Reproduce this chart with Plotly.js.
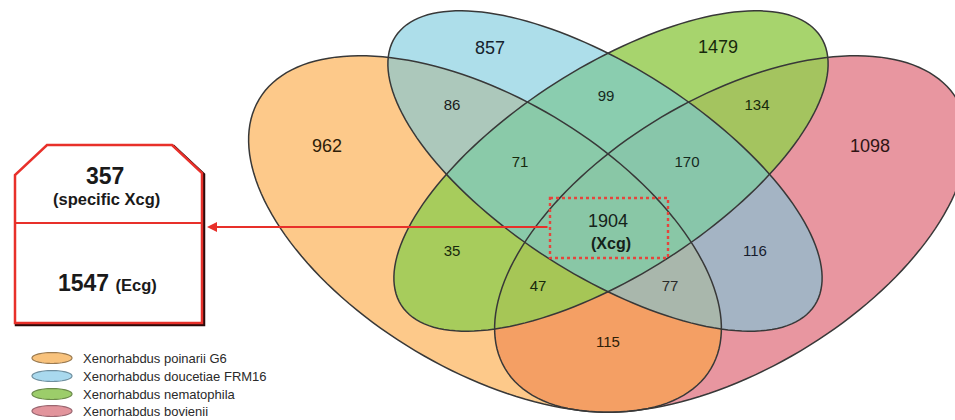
<!DOCTYPE html>
<html>
<head>
<meta charset="utf-8">
<script src="https://cdn.plot.ly/plotly-3.0.1.min.js"></script>
<style>html,body{margin:0;padding:0;background:#fff;}#chart{width:955px;height:420px;}</style>
</head>
<body>
<div id="chart"></div>
<script>
// ---------- DATA ----------
const setNames = ['Xenorhabdus poinarii G6', 'Xenorhabdus doucetiae FRM16', 'Xenorhabdus nematophila', 'Xenorhabdus bovienii'];
const regionNames = ['P only', 'D only', 'N only', 'B only', 'P∩D', 'D∩N', 'N∩B', 'P∩D∩N', 'D∩N∩B', 'P∩D∩N∩B', 'P∩N', 'D∩B', 'P∩N∩B', 'P∩D∩B', 'P∩B'];
const regionCounts = [962, 857, 1479, 1098, 86, 99, 134, 71, 170, 1904, 35, 116, 47, 77, 115];
const coreLabel = '(Xcg)';
const boxValues = [357, 1547];
const boxLabels = ['(specific Xcg)', '(Ecg)'];

// ---------- LAYOUT / STYLE (positions in pixel-like axis units) ----------
const labelX = [327, 490, 718, 870, 452, 606, 757, 520, 687, 608, 452, 755, 538, 670, 608];
const labelY = [147, 49, 48, 147, 106, 97, 106, 163, 163, 222, 252, 252, 287, 287, 343];
const labelSize = [18, 18, 18, 18, 15, 15, 15, 15, 15, 18, 15, 15, 15, 15, 15];
const labelColor = ['#2e2008', '#16222e', '#17290c', '#2e1414', '#1a1a1a', '#15291e', '#17290c', '#17290c', '#15291e', '#15221a', '#17290c', '#161c2e', '#17290c', '#2a2a2a', '#2e2008'];

// ellipse geometry: cx, cy, a, b, rotation (deg, clockwise on screen)
const ellipses = [
  {cx: 485, cy: 234, a: 263, b: 136, r: 30.8},   // poinarii (orange)
  {cx: 605, cy: 171, a: 249, b: 104, r: 32.6},   // doucetiae (blue)
  {cx: 611, cy: 171, a: 249, b: 104, r: -32.6},  // nematophila (green)
  {cx: 731, cy: 234, a: 263, b: 136, r: -30.8}   // bovienii (pink)
];
const fills = ['rgba(252,165,60,0.6)', 'rgba(118,200,220,0.6)', 'rgba(152,204,84,0.85)', 'rgba(217,80,97,0.6)'];
const drawOrder = [3, 0, 2, 1];
const legendFill = ['#f8c27c', '#a9d9ee', '#9ccd6a', '#e2949c'];
const legendLine = ['#9a7a50', '#6f8f9f', '#6b8a4a', '#9a6670'];
const legendRowY = [358, 376, 394, 411];

function ellipsePath(cx, cy, a, b, deg, n) {
  n = n || 160;
  const t = deg * Math.PI / 180, c = Math.cos(t), s = Math.sin(t);
  let p = '';
  for (let i = 0; i < n; i++) {
    const u = 2 * Math.PI * i / n;
    const x = a * Math.cos(u), y = b * Math.sin(u);
    const X = cx + x * c - y * s, Y = cy + x * s + y * c;
    p += (i ? 'L' : 'M') + X.toFixed(2) + ',' + Y.toFixed(2);
  }
  return p + 'Z';
}

const shapes = [];
drawOrder.forEach(i => {
  const e = ellipses[i];
  shapes.push({type: 'path', layer: 'below', path: ellipsePath(e.cx, e.cy, e.a, e.b, e.r),
    fillcolor: fills[i], line: {width: 0}});
});
ellipses.forEach(e => {
  shapes.push({type: 'path', layer: 'below', path: ellipsePath(e.cx, e.cy, e.a, e.b, e.r),
    fillcolor: 'rgba(0,0,0,0)', line: {color: '#383838', width: 1.5}});
});
// dotted core box
shapes.push({type: 'rect', layer: 'above', x0: 550, y0: 198, x1: 668, y1: 258,
  line: {color: '#e5453c', width: 2.4, dash: 'dot'}, fillcolor: 'rgba(0,0,0,0)'});
// left callout box
const boxPath = 'M47,145L172,145L202,173L202,323L15,323L15,175Z';
shapes.push({type: 'path', layer: 'below', path: 'M48.5,146.5L173.5,146.5L203.5,174.5L203.5,324.5L16.5,324.5L16.5,176.5Z',
  fillcolor: 'rgba(0,0,0,0)', line: {color: '#2a0a0a', width: 3.5}});
shapes.push({type: 'path', layer: 'below', path: boxPath, fillcolor: '#ffffff', line: {color: '#e8302a', width: 2.5}});
shapes.push({type: 'line', layer: 'below', x0: 15, x1: 202, y0: 223, y1: 223, line: {color: '#e8302a', width: 2}});
// legend ellipses
legendRowY.forEach((y, i) => {
  shapes.push({type: 'path', layer: 'below', path: ellipsePath(52, y, 20, 5.5, 0, 60),
    fillcolor: legendFill[i], line: {color: legendLine[i], width: 1.2}});
});

const traces = [{
  type: 'scatter', mode: 'text', x: labelX, y: labelY,
  text: regionCounts.map(String), hoverinfo: 'skip',
  textfont: {family: 'Liberation Sans, Arial, sans-serif', size: labelSize, color: labelColor}
}];

const annotations = [
  {x: 611, y: 243, text: '<b>' + coreLabel + '</b>', showarrow: false, font: {family: 'Liberation Sans, Arial', size: 16, color: '#15221a'}},
  {x: 207, y: 227, ax: 549, ay: 227, axref: 'x', ayref: 'y', xref: 'x', yref: 'y', text: '', showarrow: true,
    arrowhead: 2, arrowsize: 1, arrowwidth: 2, arrowcolor: '#e8302a'},
  {x: 105, y: 176, text: '<b>' + boxValues[0] + '</b>', showarrow: false, font: {family: 'Liberation Sans, Arial', size: 23, color: '#1a1a1a'}},
  {x: 106, y: 199, text: '<b>' + boxLabels[0] + '</b>', showarrow: false, font: {family: 'Liberation Sans, Arial', size: 16.5, color: '#1a1a1a'}},
  {x: 107, y: 283, text: '<b>' + boxValues[1] + '</b> <b><span style="font-size:16.5px">' + boxLabels[1] + '</span></b>', showarrow: false,
    font: {family: 'Liberation Sans, Arial', size: 23, color: '#1a1a1a'}}
];
setNames.forEach((n, i) => {
  annotations.push({x: 81, y: legendRowY[i], text: n, xanchor: 'left', showarrow: false,
    font: {family: 'Liberation Sans, Arial', size: 13, color: '#2a2a2a'}});
});

const layout = {
  width: 955, height: 420, margin: {l: 0, r: 0, t: 0, b: 0},
  paper_bgcolor: '#ffffff', plot_bgcolor: '#ffffff', showlegend: false,
  xaxis: {range: [0, 955], visible: false, fixedrange: true},
  yaxis: {range: [420, 0], visible: false, fixedrange: true},
  shapes: shapes, annotations: annotations
};
Plotly.newPlot('chart', traces, layout, {displayModeBar: false, staticPlot: true});
</script>
</body>
</html>
